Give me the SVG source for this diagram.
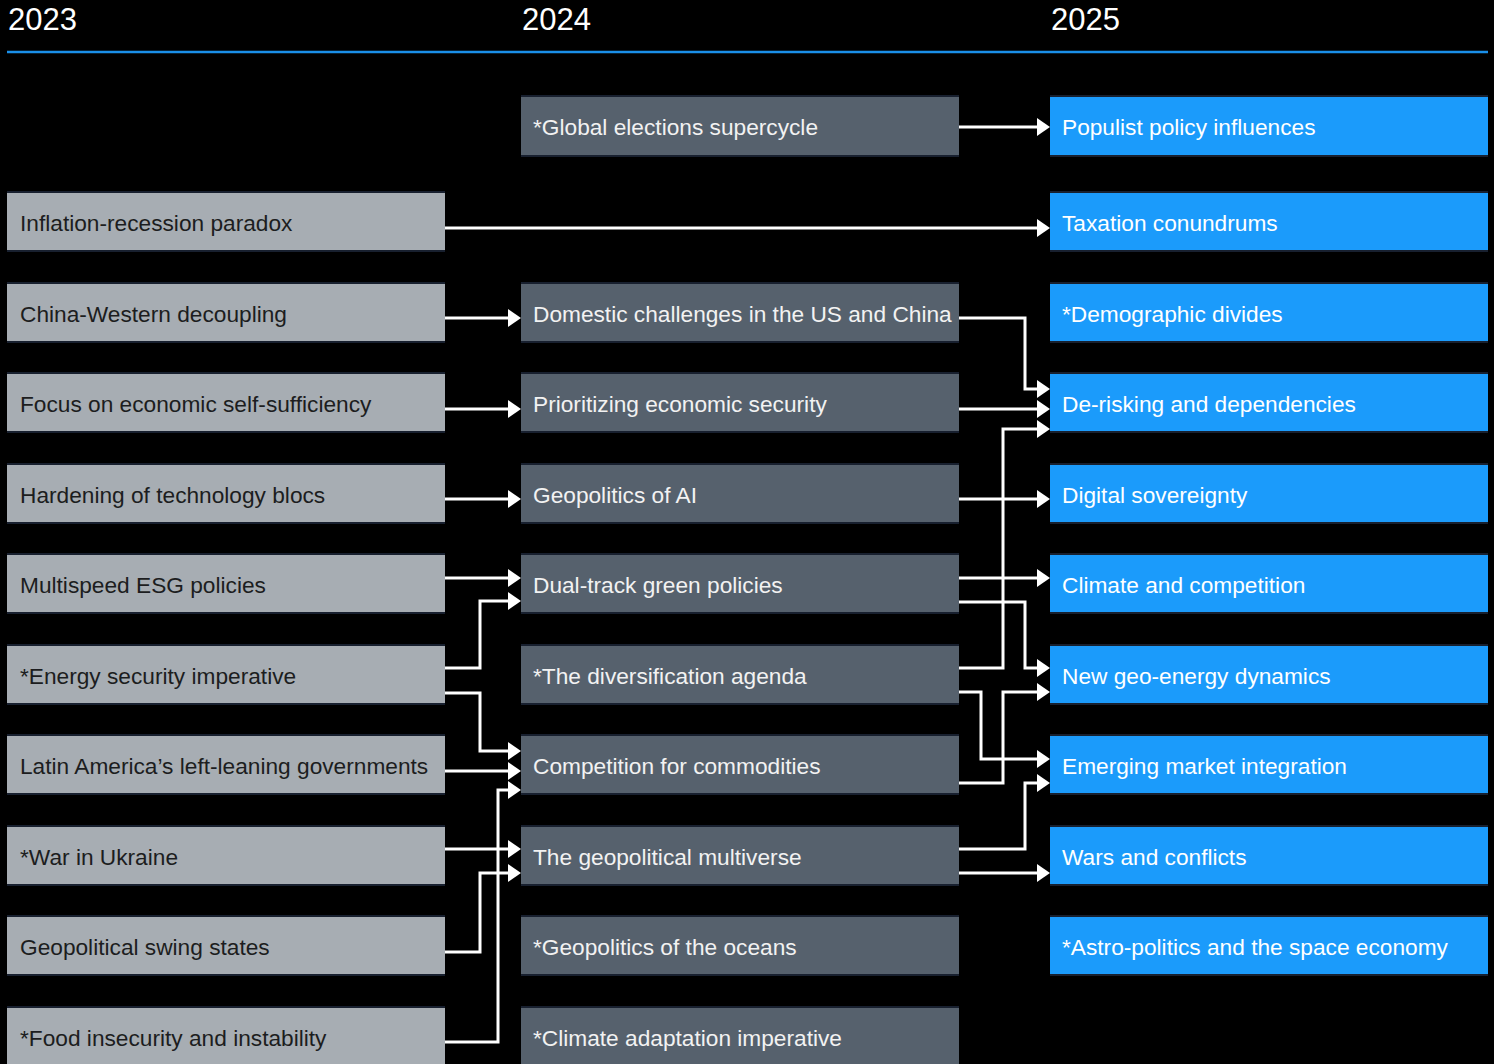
<svg xmlns="http://www.w3.org/2000/svg" width="1494" height="1064" viewBox="0 0 1494 1064">
  <defs>
    <style>
      .yr { font-family: "Liberation Sans", Arial, sans-serif; font-size: 31px; fill: #ffffff; }
      .lbl { font-family: "Liberation Sans", Arial, sans-serif; font-size: 22.7px; }
      .c1 rect { fill: #a7adb3; }
      .c1 text { fill: #1c1d20; }
      .c2 rect { fill: #56616d; }
      .c2 text { fill: #f2f2f2; }
      .c3 rect { fill: #1b9bfb; }
      .c3 text { fill: #ffffff; }
      .edge { stroke: #18202f; stroke-width: 2; }
      .link { fill: none; stroke: #ffffff; stroke-width: 3; marker-end: url(#arrow); }
    </style>
    <marker id="arrow" markerUnits="userSpaceOnUse" markerWidth="13" markerHeight="18" viewBox="0 0 13 18" refX="0" refY="9" orient="auto">
      <path d="M0,0 L13,9 L0,18 Z" fill="#ffffff"/>
    </marker>
  </defs>

  <rect x="0" y="0" width="1494" height="1064" fill="#000000"/>

  <!-- year headings and rule -->
  <g id="header">
    <text class="yr" x="8" y="30">2023</text>
    <text class="yr" x="522" y="30">2024</text>
    <text class="yr" x="1051" y="30">2025</text>
    <line x1="7" y1="52" x2="1488" y2="52" stroke="#1a8fe8" stroke-width="2.5"/>
  </g>

  <!-- 2023 column -->
  <g id="n2023-inflation" class="c1"><rect x="7" y="191" width="438" height="61"/><line class="edge" x1="7" y1="192" x2="445" y2="192"/><line class="edge" x1="7" y1="251" x2="445" y2="251"/><text class="lbl" x="20" y="231">Inflation-recession paradox</text></g>
  <g id="n2023-decoupling" class="c1"><rect x="7" y="282" width="438" height="61"/><line class="edge" x1="7" y1="283" x2="445" y2="283"/><line class="edge" x1="7" y1="342" x2="445" y2="342"/><text class="lbl" x="20" y="322">China-Western decoupling</text></g>
  <g id="n2023-selfsufficiency" class="c1"><rect x="7" y="372" width="438" height="61"/><line class="edge" x1="7" y1="373" x2="445" y2="373"/><line class="edge" x1="7" y1="432" x2="445" y2="432"/><text class="lbl" x="20" y="412">Focus on economic self-sufficiency</text></g>
  <g id="n2023-techblocs" class="c1"><rect x="7" y="463" width="438" height="61"/><line class="edge" x1="7" y1="464" x2="445" y2="464"/><line class="edge" x1="7" y1="523" x2="445" y2="523"/><text class="lbl" x="20" y="503">Hardening of technology blocs</text></g>
  <g id="n2023-esg" class="c1"><rect x="7" y="553" width="438" height="61"/><line class="edge" x1="7" y1="554" x2="445" y2="554"/><line class="edge" x1="7" y1="613" x2="445" y2="613"/><text class="lbl" x="20" y="593">Multispeed ESG policies</text></g>
  <g id="n2023-energy" class="c1"><rect x="7" y="644" width="438" height="61"/><line class="edge" x1="7" y1="645" x2="445" y2="645"/><line class="edge" x1="7" y1="704" x2="445" y2="704"/><text class="lbl" x="20" y="684">*Energy security imperative</text></g>
  <g id="n2023-latam" class="c1"><rect x="7" y="734" width="438" height="61"/><line class="edge" x1="7" y1="735" x2="445" y2="735"/><line class="edge" x1="7" y1="794" x2="445" y2="794"/><text class="lbl" x="20" y="774">Latin America’s left-leaning governments</text></g>
  <g id="n2023-ukraine" class="c1"><rect x="7" y="825" width="438" height="61"/><line class="edge" x1="7" y1="826" x2="445" y2="826"/><line class="edge" x1="7" y1="885" x2="445" y2="885"/><text class="lbl" x="20" y="865">*War in Ukraine</text></g>
  <g id="n2023-swing" class="c1"><rect x="7" y="915" width="438" height="61"/><line class="edge" x1="7" y1="916" x2="445" y2="916"/><line class="edge" x1="7" y1="975" x2="445" y2="975"/><text class="lbl" x="20" y="955">Geopolitical swing states</text></g>
  <g id="n2023-food" class="c1"><rect x="7" y="1006" width="438" height="61"/><line class="edge" x1="7" y1="1007" x2="445" y2="1007"/><text class="lbl" x="20" y="1046">*Food insecurity and instability</text></g>

  <!-- 2024 column -->
  <g id="n2024-elections" class="c2"><rect x="521" y="95" width="438" height="62"/><line class="edge" x1="521" y1="96" x2="959" y2="96"/><line class="edge" x1="521" y1="156" x2="959" y2="156"/><text class="lbl" x="533" y="135">*Global elections supercycle</text></g>
  <g id="n2024-domestic" class="c2"><rect x="521" y="282" width="438" height="61"/><line class="edge" x1="521" y1="283" x2="959" y2="283"/><line class="edge" x1="521" y1="342" x2="959" y2="342"/><text class="lbl" x="533" y="322">Domestic challenges in the US and China</text></g>
  <g id="n2024-ecosecurity" class="c2"><rect x="521" y="372" width="438" height="61"/><line class="edge" x1="521" y1="373" x2="959" y2="373"/><line class="edge" x1="521" y1="432" x2="959" y2="432"/><text class="lbl" x="533" y="412">Prioritizing economic security</text></g>
  <g id="n2024-ai" class="c2"><rect x="521" y="463" width="438" height="61"/><line class="edge" x1="521" y1="464" x2="959" y2="464"/><line class="edge" x1="521" y1="523" x2="959" y2="523"/><text class="lbl" x="533" y="503">Geopolitics of AI</text></g>
  <g id="n2024-green" class="c2"><rect x="521" y="553" width="438" height="61"/><line class="edge" x1="521" y1="554" x2="959" y2="554"/><line class="edge" x1="521" y1="613" x2="959" y2="613"/><text class="lbl" x="533" y="593">Dual-track green policies</text></g>
  <g id="n2024-diversification" class="c2"><rect x="521" y="644" width="438" height="61"/><line class="edge" x1="521" y1="645" x2="959" y2="645"/><line class="edge" x1="521" y1="704" x2="959" y2="704"/><text class="lbl" x="533" y="684">*The diversification agenda</text></g>
  <g id="n2024-commodities" class="c2"><rect x="521" y="734" width="438" height="61"/><line class="edge" x1="521" y1="735" x2="959" y2="735"/><line class="edge" x1="521" y1="794" x2="959" y2="794"/><text class="lbl" x="533" y="774">Competition for commodities</text></g>
  <g id="n2024-multiverse" class="c2"><rect x="521" y="825" width="438" height="61"/><line class="edge" x1="521" y1="826" x2="959" y2="826"/><line class="edge" x1="521" y1="885" x2="959" y2="885"/><text class="lbl" x="533" y="865">The geopolitical multiverse</text></g>
  <g id="n2024-oceans" class="c2"><rect x="521" y="915" width="438" height="61"/><line class="edge" x1="521" y1="916" x2="959" y2="916"/><line class="edge" x1="521" y1="975" x2="959" y2="975"/><text class="lbl" x="533" y="955">*Geopolitics of the oceans</text></g>
  <g id="n2024-adaptation" class="c2"><rect x="521" y="1006" width="438" height="61"/><line class="edge" x1="521" y1="1007" x2="959" y2="1007"/><text class="lbl" x="533" y="1046">*Climate adaptation imperative</text></g>

  <!-- 2025 column -->
  <g id="n2025-populist" class="c3"><rect x="1050" y="95" width="438" height="62"/><line class="edge" x1="1050" y1="96" x2="1488" y2="96"/><line class="edge" x1="1050" y1="156" x2="1488" y2="156"/><text class="lbl" x="1062" y="135">Populist policy influences</text></g>
  <g id="n2025-taxation" class="c3"><rect x="1050" y="191" width="438" height="61"/><line class="edge" x1="1050" y1="192" x2="1488" y2="192"/><line class="edge" x1="1050" y1="251" x2="1488" y2="251"/><text class="lbl" x="1062" y="231">Taxation conundrums</text></g>
  <g id="n2025-demographic" class="c3"><rect x="1050" y="282" width="438" height="61"/><line class="edge" x1="1050" y1="283" x2="1488" y2="283"/><line class="edge" x1="1050" y1="342" x2="1488" y2="342"/><text class="lbl" x="1062" y="322">*Demographic divides</text></g>
  <g id="n2025-derisking" class="c3"><rect x="1050" y="372" width="438" height="61"/><line class="edge" x1="1050" y1="373" x2="1488" y2="373"/><line class="edge" x1="1050" y1="432" x2="1488" y2="432"/><text class="lbl" x="1062" y="412">De-risking and dependencies</text></g>
  <g id="n2025-digital" class="c3"><rect x="1050" y="463" width="438" height="61"/><line class="edge" x1="1050" y1="464" x2="1488" y2="464"/><line class="edge" x1="1050" y1="523" x2="1488" y2="523"/><text class="lbl" x="1062" y="503">Digital sovereignty</text></g>
  <g id="n2025-climate" class="c3"><rect x="1050" y="553" width="438" height="61"/><line class="edge" x1="1050" y1="554" x2="1488" y2="554"/><line class="edge" x1="1050" y1="613" x2="1488" y2="613"/><text class="lbl" x="1062" y="593">Climate and competition</text></g>
  <g id="n2025-geoenergy" class="c3"><rect x="1050" y="644" width="438" height="61"/><line class="edge" x1="1050" y1="645" x2="1488" y2="645"/><line class="edge" x1="1050" y1="704" x2="1488" y2="704"/><text class="lbl" x="1062" y="684">New geo-energy dynamics</text></g>
  <g id="n2025-emerging" class="c3"><rect x="1050" y="734" width="438" height="61"/><line class="edge" x1="1050" y1="735" x2="1488" y2="735"/><line class="edge" x1="1050" y1="794" x2="1488" y2="794"/><text class="lbl" x="1062" y="774">Emerging market integration</text></g>
  <g id="n2025-wars" class="c3"><rect x="1050" y="825" width="438" height="61"/><line class="edge" x1="1050" y1="826" x2="1488" y2="826"/><line class="edge" x1="1050" y1="885" x2="1488" y2="885"/><text class="lbl" x="1062" y="865">Wars and conflicts</text></g>
  <g id="n2025-space" class="c3"><rect x="1050" y="915" width="438" height="61"/><line class="edge" x1="1050" y1="916" x2="1488" y2="916"/><line class="edge" x1="1050" y1="975" x2="1488" y2="975"/><text class="lbl" x="1062" y="955">*Astro-politics and the space economy</text></g>

  <!-- connectors -->
  <g id="connectors">
    <!-- 2023 to 2024 / 2025 -->
    <path class="link" d="M445,228 H1037"/>
    <path class="link" d="M445,318 H508"/>
    <path class="link" d="M445,409 H508"/>
    <path class="link" d="M445,499 H508"/>
    <path class="link" d="M445,578 H508"/>
    <path class="link" d="M445,668 H480 V601 H508"/>
    <path class="link" d="M445,693 H480 V751 H508"/>
    <path class="link" d="M445,771 H508"/>
    <path class="link" d="M445,1042 H498 V790 H508"/>
    <path class="link" d="M445,849 H508"/>
    <path class="link" d="M445,952 H480 V873 H508"/>
    <!-- 2024 to 2025 -->
    <path class="link" d="M959,127 H1037"/>
    <path class="link" d="M959,318 H1025 V389 H1037"/>
    <path class="link" d="M959,409 H1037"/>
    <path class="link" d="M959,668 H1003 V429 H1037"/>
    <path class="link" d="M959,499 H1037"/>
    <path class="link" d="M959,578 H1037"/>
    <path class="link" d="M959,602 H1025 V668 H1037"/>
    <path class="link" d="M959,692 H981 V759 H1037"/>
    <path class="link" d="M959,783 H1003 V692 H1037"/>
    <path class="link" d="M959,849 H1025 V783 H1037"/>
    <path class="link" d="M959,873 H1037"/>
  </g>
</svg>
